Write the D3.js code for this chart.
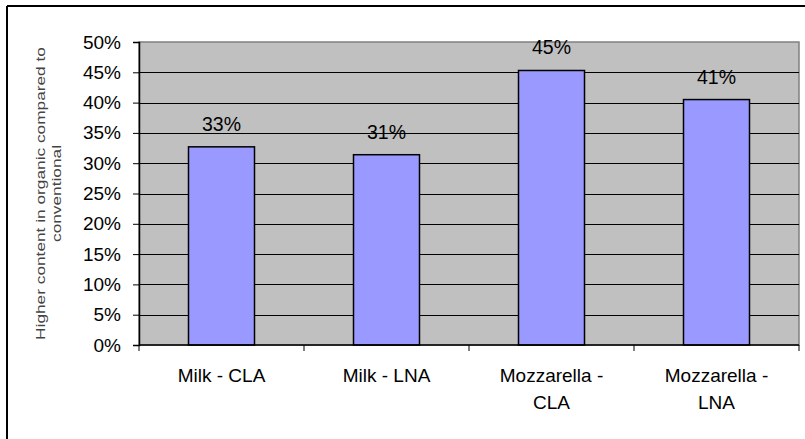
<!DOCTYPE html>
<html>
<head>
<meta charset="utf-8">
<script src="https://cdn.jsdelivr.net/npm/d3@7/dist/d3.min.js"></script>
<style>
  html, body { margin: 0; padding: 0; background: #fff; }
  svg { display: block; font-family: "Liberation Sans", Arial, sans-serif; }
</style>
</head>
<body>
<svg id="chart" width="805" height="439"></svg>
<script>
// Share of fatty acid content above conventional, by product and acid
const categories = [["Milk - CLA"], ["Milk - LNA"], ["Mozzarella -", "CLA"], ["Mozzarella -", "LNA"]];
const values = [0.327, 0.314, 0.453, 0.405];
const yTicks = [0, 0.05, 0.10, 0.15, 0.20, 0.25, 0.30, 0.35, 0.40, 0.45, 0.50];
const yTitle = ["Higher content in organic compared to", "conventional"];

const svg = d3.select("#chart");
const plot = { left: 139, right: 799, top: 42, bottom: 345 };

// Frame around the chart (top and left edges fall inside the canvas)
svg.append("line").attr("x1", 7).attr("x2", 805).attr("y1", 6).attr("y2", 6)
  .attr("stroke", "#000").attr("stroke-width", 2);
svg.append("line").attr("x1", 7).attr("x2", 7).attr("y1", 6).attr("y2", 439)
  .attr("stroke", "#000").attr("stroke-width", 2);

const x = d3.scaleBand()
  .domain(d3.range(categories.length))
  .range([plot.left, plot.right])
  .paddingInner(0.6).paddingOuter(0.3);
const xBand = d3.scaleBand()
  .domain(d3.range(categories.length))
  .range([plot.left, plot.right]);
const y = d3.scaleLinear().domain([0, 0.5]).range([plot.bottom, plot.top]);

// Plot area
svg.append("rect")
  .attr("x", plot.left).attr("y", plot.top)
  .attr("width", plot.right - plot.left).attr("height", plot.bottom - plot.top)
  .attr("fill", "#c0c0c0").attr("stroke", "#808080").attr("stroke-width", 1.5);

// Gridlines
svg.append("g").selectAll("line").data(yTicks.slice(1, -1)).join("line")
  .attr("x1", plot.left).attr("x2", plot.right)
  .attr("y1", d => Math.round(y(d)) + 0.5).attr("y2", d => Math.round(y(d)) + 0.5)
  .attr("stroke", "#000").attr("stroke-width", 1);

// Bars
svg.append("g").selectAll("rect").data(values).join("rect")
  .attr("x", (d, i) => x(i)).attr("width", x.bandwidth())
  .attr("y", d => y(d)).attr("height", d => y(0) - y(d))
  .attr("fill", "#9999ff").attr("stroke", "#000").attr("stroke-width", 1.5);

// Value labels
const fmt = d3.format(".0%");
svg.append("g").selectAll("text").data(values).join("text")
  .attr("x", (d, i) => x(i) + x.bandwidth() / 2)
  .attr("y", d => y(d) - 16)
  .attr("text-anchor", "middle")
  .attr("font-size", 19.5).attr("fill", "#000")
  .text(d => fmt(d));

// Y axis
const yAxis = d3.axisLeft(y).tickValues(yTicks).tickFormat(d3.format(".0%")).tickSize(6).tickPadding(12);
const gy = svg.append("g").attr("transform", `translate(${plot.left},0)`).call(yAxis);
gy.select(".domain").attr("stroke", "#000").attr("stroke-width", 1.5);
gy.selectAll(".tick line").attr("stroke", "#000");
gy.selectAll(".tick text").attr("font-size", 19).attr("fill", "#000")
  .attr("font-family", "Liberation Sans, Arial, sans-serif");

// X axis with ticks at category boundaries
const gx = svg.append("g").attr("transform", `translate(0,${plot.bottom})`);
gx.append("line").attr("x1", plot.left).attr("x2", plot.right).attr("y1", 0).attr("y2", 0)
  .attr("stroke", "#000").attr("stroke-width", 1.5);
const bounds = d3.range(categories.length + 1).map(i => i < categories.length ? xBand(i) : plot.right);
gx.selectAll("line.tk").data(bounds).join("line").attr("class", "tk")
  .attr("x1", d => d).attr("x2", d => d).attr("y1", 0).attr("y2", 6)
  .attr("stroke", "#000");
const cl = gx.selectAll("text").data(categories).join("text")
  .attr("text-anchor", "middle").attr("font-size", 19).attr("fill", "#000")
  .attr("transform", (d, i) => `translate(${xBand(i) + xBand.bandwidth() / 2},37)`);
cl.selectAll("tspan").data(d => d).join("tspan")
  .attr("x", 0).attr("dy", (d, j) => j === 0 ? 0 : 27).text(d => d);

// Y axis title, stretched along its length
const yt = svg.append("text")
  .attr("transform", `translate(45,${(plot.top + plot.bottom) / 2}) rotate(-90) scale(1.28,1)`)
  .attr("text-anchor", "middle").attr("font-size", 13.5).attr("fill", "#444");
yt.selectAll("tspan").data(yTitle).join("tspan")
  .attr("x", 0).attr("dy", (d, j) => j === 0 ? 0 : 16).text(d => d);
</script>
</body>
</html>
